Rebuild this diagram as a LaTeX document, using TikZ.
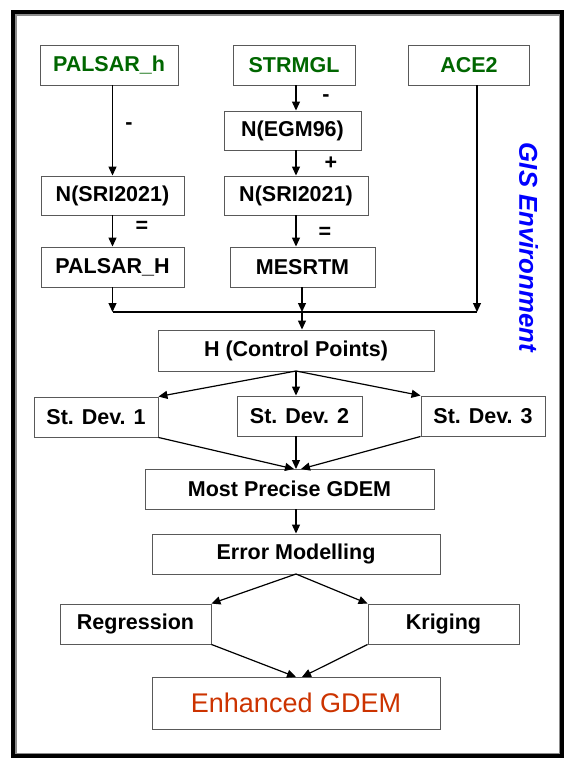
\documentclass[tikz,border=0pt]{standalone}
\usepackage{fontspec}
\setmainfont{Liberation Sans}
\usetikzlibrary{arrows.meta,calc}
\definecolor{dgreen}{RGB}{0,102,0}
\definecolor{ered}{RGB}{204,51,0}
\definecolor{gblue}{RGB}{0,0,255}
\begin{document}
\begin{tikzpicture}[x=1pt,y=-1pt,
  box/.style={draw=black!65, line width=0.9pt, inner sep=0pt, minimum height=40pt,
    font=\fontsize{21.5}{24}\selectfont\bfseries, text=black},
  grn/.style={text=dgreen},
  arr/.style={line width=1.2pt, -{Triangle[length=9pt,width=8pt]}},
  ln/.style={line width=1.2pt},
  op/.style={font=\fontsize{21.5}{24}\selectfont\bfseries, inner sep=0pt}]
\useasboundingbox (0,0) rectangle (571,771);
% frame
\draw[line width=3.7pt, black] (13.3,12) rectangle (562.3,755.8);
\draw[line width=1.5pt, black!45] (15.8,14.8) rectangle (559.3,753.7);
% nodes
\node[box,grn,minimum width=138pt] (palh) at (109,65) {PALSAR\_h};
\node[box,grn,minimum width=122pt] (strm) at (294,65) {STRMGL};
\node[box,grn,minimum width=121pt] (ace) at (469,65) {ACE2};
\node[box,minimum width=137pt,minimum height=39pt] (egm) at (292.5,130.5) {N(EGM96)};
\node[box,minimum width=143pt,minimum height=39pt] (sril) at (112.5,195.5) {N(SRI2021)};
\node[box,minimum width=144pt,minimum height=39pt] (srim) at (296,195.5) {N(SRI2021)};
\node[box,minimum width=143pt] (palH) at (112.5,267) {PALSAR\_H};
\node[box,minimum width=145pt] (mes) at (302.5,267) {MESRTM};
\node[box,minimum width=276pt,minimum height=41pt] (hcp) at (296,350.5) {H (Control Points)};
\node[box,minimum width=124pt] (sd1) at (96,417) {St. Dev. 1};
\node[box,minimum width=125pt] (sd2) at (299.5,416) {St. Dev. 2};
\node[box,minimum width=124pt] (sd3) at (483,416) {St. Dev. 3};
\node[box,minimum width=289pt] (mpg) at (289.5,489) {Most Precise GDEM};
\node[box,minimum width=288pt] (err) at (296,554) {Error Modelling};
\node[box,minimum width=151pt] (reg) at (135.5,624) {Regression};
\node[box,minimum width=151pt] (kri) at (443.5,624) {Kriging};
\node[box,minimum width=288pt,minimum height=52pt,font=\fontsize{27}{30}\selectfont,text=ered] (enh) at (296,703) {Enhanced GDEM};
\node[rotate=-90,text=gblue,font=\fontsize{25.8}{28}\selectfont\bfseries\itshape,inner sep=0pt] (gis) at (528.5,247.5) {GIS Environment};
% coordinates
\coordinate (jl) at (112.5,312);
\coordinate (jm) at (302,312);
\coordinate (jr) at (477,312);
\coordinate (acex) at (477,85);
% top arrows
\draw[arr] (palh.south -| sril.north) -- (sril.north);
\draw[arr] (strm.south -| srim.north) -- (egm.north -| srim.north);
\draw[arr] (egm.south -| srim.north) -- (srim.north);
\draw[arr] (sril.south) -- (palH.north);
\draw[arr] (srim.south) -- (srim.south |- mes.north);
\draw[arr] (palH.south) -- (jl);
\draw[arr] (mes.south -| jm) -- (jm);
\draw[arr] (acex) -- (jr);
\draw[ln] (jl) -- (jr);
\draw[arr] (jm) -- (jm |- hcp.north);
% operators
\node[op] (m1) at (129,126) {-};
\node[op] (m2) at (326,98) {-};
\node[op] (p1) at (331,163) {+};
\node[op] (e1) at (142,227) {=};
\node[op] (e2) at (325,233) {=};
% middle arrows
\coordinate (hs) at (296,371);
\draw[arr] (hs) -- (sd1.north east);
\draw[arr] (hs) -- (hs |- sd2.north);
\draw[arr] (hs) -- (sd3.north west);
\coordinate (mt1) at (294,469);
\coordinate (mt2) at (296,469);
\coordinate (mt3) at (301,469);
\draw[arr] (sd1.south east) -- (mt1);
\draw[arr] (sd2.south -| mt2) -- (mt2);
\draw[arr] (sd3.south west) -- (mt3);
\draw[arr] (mpg.south -| mt2) -- (err.north -| mt2);
\coordinate (es) at (296,574);
\draw[arr] (es) -- (reg.north east);
\draw[arr] (es) -- (kri.north west);
\coordinate (et1) at (296,677);
\coordinate (et2) at (302,677);
\draw[arr] (reg.south east) -- (et1);
\draw[arr] (kri.south west) -- (et2);
\end{tikzpicture}
\end{document}
